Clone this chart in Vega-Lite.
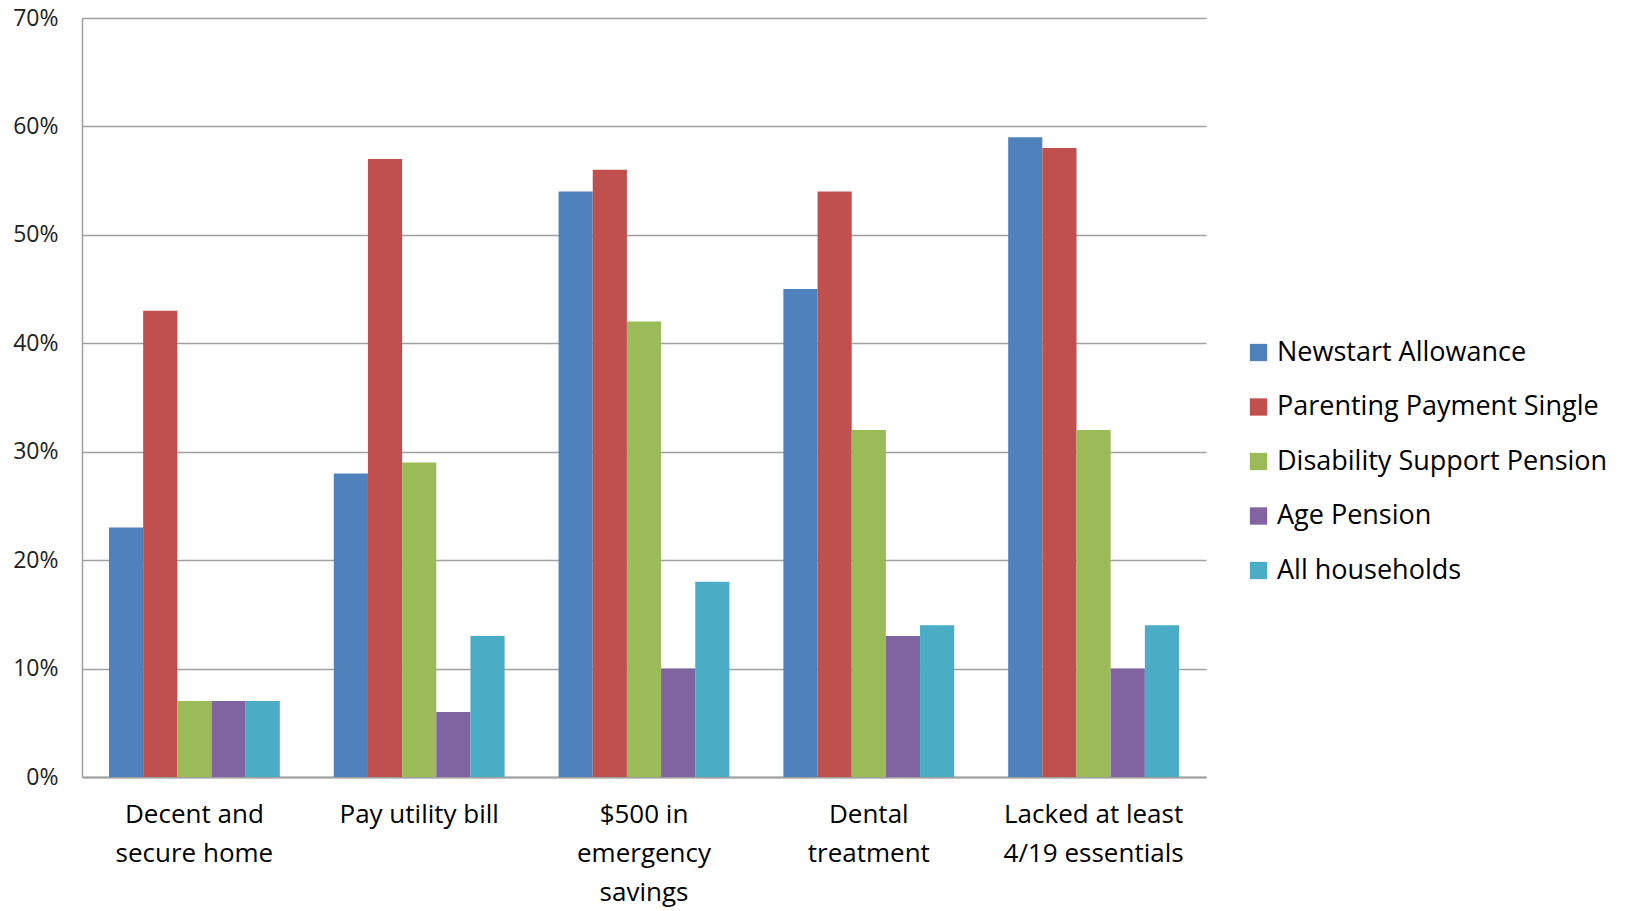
{
  "$schema": "https://vega.github.io/schema/vega-lite/v6.json",
  "width": 1124,
  "height": 759,
  "autosize": "none",
  "padding": {"left": 82, "top": 18, "right": 424, "bottom": 134},
  "background": "white",
  "config": {
    "view": {"stroke": null},
    "font": "Open Sans"
  },
  "data": {
    "values": [
      {"item": "Decent and secure home", "group": "Newstart Allowance", "value": 0.23},
      {"item": "Decent and secure home", "group": "Parenting Payment Single", "value": 0.43},
      {"item": "Decent and secure home", "group": "Disability Support Pension", "value": 0.07},
      {"item": "Decent and secure home", "group": "Age Pension", "value": 0.07},
      {"item": "Decent and secure home", "group": "All households", "value": 0.07},
      {"item": "Pay utility bill", "group": "Newstart Allowance", "value": 0.28},
      {"item": "Pay utility bill", "group": "Parenting Payment Single", "value": 0.57},
      {"item": "Pay utility bill", "group": "Disability Support Pension", "value": 0.29},
      {"item": "Pay utility bill", "group": "Age Pension", "value": 0.06},
      {"item": "Pay utility bill", "group": "All households", "value": 0.13},
      {"item": "$500 in emergency savings", "group": "Newstart Allowance", "value": 0.54},
      {"item": "$500 in emergency savings", "group": "Parenting Payment Single", "value": 0.56},
      {"item": "$500 in emergency savings", "group": "Disability Support Pension", "value": 0.42},
      {"item": "$500 in emergency savings", "group": "Age Pension", "value": 0.10},
      {"item": "$500 in emergency savings", "group": "All households", "value": 0.18},
      {"item": "Dental treatment", "group": "Newstart Allowance", "value": 0.45},
      {"item": "Dental treatment", "group": "Parenting Payment Single", "value": 0.54},
      {"item": "Dental treatment", "group": "Disability Support Pension", "value": 0.32},
      {"item": "Dental treatment", "group": "Age Pension", "value": 0.13},
      {"item": "Dental treatment", "group": "All households", "value": 0.14},
      {"item": "Lacked at least 4/19 essentials", "group": "Newstart Allowance", "value": 0.59},
      {"item": "Lacked at least 4/19 essentials", "group": "Parenting Payment Single", "value": 0.58},
      {"item": "Lacked at least 4/19 essentials", "group": "Disability Support Pension", "value": 0.32},
      {"item": "Lacked at least 4/19 essentials", "group": "Age Pension", "value": 0.10},
      {"item": "Lacked at least 4/19 essentials", "group": "All households", "value": 0.14}
    ]
  },
  "mark": {"type": "bar"},
  "encoding": {
    "x": {
      "field": "item",
      "type": "nominal",
      "sort": null,
      "scale": {"paddingInner": 0.24, "paddingOuter": 0.12},
      "axis": {
        "title": null,
        "labelAngle": 0,
        "labelFontSize": 26,
        "labelColor": "#000000",
        "labelPadding": 24,
        "labelLineHeight": 39,
        "labelBaseline": "top",
        "labelLimit": 0,
        "ticks": false,
        "domainColor": "#A0A0A0",
        "domainWidth": 2,
        "labelExpr": "datum.value == 'Decent and secure home' ? ['Decent and', 'secure home'] : datum.value == '$500 in emergency savings' ? ['$500 in', 'emergency', 'savings'] : datum.value == 'Dental treatment' ? ['Dental', 'treatment'] : datum.value == 'Lacked at least 4/19 essentials' ? ['Lacked at least', '4/19 essentials'] : datum.value"
      }
    },
    "xOffset": {
      "field": "group",
      "type": "nominal",
      "sort": ["Newstart Allowance", "Parenting Payment Single", "Disability Support Pension", "Age Pension", "All households"],
      "scale": {"paddingInner": 0, "paddingOuter": 0}
    },
    "y": {
      "field": "value",
      "type": "quantitative",
      "scale": {"domain": [0, 0.7], "nice": false},
      "axis": {
        "title": null,
        "format": ".0%",
        "values": [0, 0.1, 0.2, 0.3, 0.4, 0.5, 0.6, 0.7],
        "labelFontSize": 23,
        "labelColor": "#222222",
        "labelPadding": 24,
        "ticks": false,
        "grid": true,
        "gridColor": "#A0A0A0",
        "gridWidth": 1.5,
        "domainColor": "#A0A0A0",
        "domainWidth": 1.5
      }
    },
    "color": {
      "field": "group",
      "type": "nominal",
      "sort": ["Newstart Allowance", "Parenting Payment Single", "Disability Support Pension", "Age Pension", "All households"],
      "scale": {
        "domain": ["Newstart Allowance", "Parenting Payment Single", "Disability Support Pension", "Age Pension", "All households"],
        "range": ["#4F81BD", "#C0504D", "#9BBB59", "#8064A2", "#4BACC6"]
      },
      "legend": {
        "title": null,
        "orient": "none",
        "legendX": 1163,
        "legendY": 321,
        "symbolType": "square",
        "symbolSize": 300,
        "symbolStrokeWidth": 0,
        "labelFontSize": 27,
        "labelColor": "#000000",
        "labelOffset": 5,
        "rowPadding": 26.5,
        "labelLimit": 0
      }
    }
  }
}
